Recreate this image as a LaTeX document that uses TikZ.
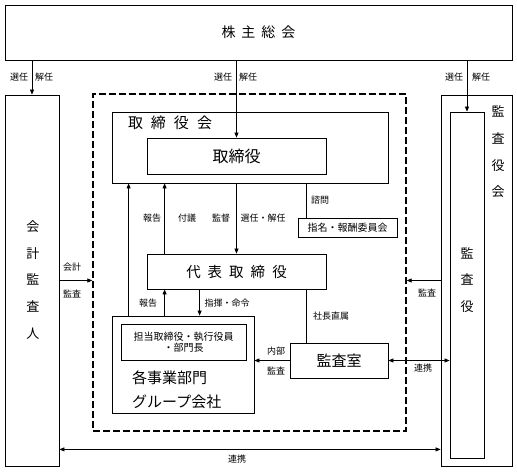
\documentclass[tikz,border=0pt]{standalone}
\usepackage{fontspec}
\setmainfont{Noto Sans CJK JP}
\usetikzlibrary{arrows.meta}
\newcommand{\jgap}{\hspace{6pt}}
\tikzset{
  box/.style={draw, line width=0.8pt, inner sep=0pt},
  arr/.style={-{Triangle[length=5pt,width=4pt]}, line width=0.7pt},
  dblarr/.style={{Triangle[length=5pt,width=4pt]}-{Triangle[length=5pt,width=4pt]}, line width=0.7pt},
  lbl/.style={font=\fontsize{9}{10}\selectfont, inner sep=0pt},
  vtext/.style={font=\fontsize{13}{26.7}\selectfont, align=center, inner sep=0pt},
}

\begin{document}
\begin{tikzpicture}[x=1pt, y=-1pt]
\useasboundingbox (0,0) rectangle (517,472);

% boxes
\node[box, minimum width=507pt, minimum height=55pt, font=\fontsize{14}{16}\selectfont] (gm) at (258.5,32.5) {株\jgap 主\jgap 総\jgap 会};
\node[draw, line width=1.3pt, dash pattern=on 7pt off 3pt, minimum width=313pt, minimum height=337pt] (exec) at (249.5,262.5) {};
\node[box, minimum width=54pt, minimum height=371pt] (ca) at (32,280.5) {};
\node[vtext] (catext) at (33,280) {会\\計\\監\\査\\人};
\node[box, minimum width=71pt, minimum height=371pt] (ksk) at (476.5,280.5) {};
\node[box, minimum width=34pt, minimum height=346pt] (ks) at (467,285) {};
\node[vtext] (ksktext) at (498,152) {監\\査\\役\\会};
\node[vtext] (kstext) at (467,280) {監\\査\\役};

\node[box, minimum width=276pt, minimum height=71pt] (torikai) at (250,147.5) {};
\node[font=\fontsize{15}{17}\selectfont, inner sep=0pt] (torikaitext) at (170,123) {取\hspace{8pt}締\hspace{8pt}役\hspace{8pt}会};
\node[box, minimum width=179pt, minimum height=36pt, font=\fontsize{16}{18}\selectfont] (tori) at (236.5,156) {取締役};
\node[box, minimum width=99pt, minimum height=19pt, font=\fontsize{10}{12}\selectfont] (shimei) at (347.5,227.5) {指名・報酬委員会};
\node[box, minimum width=179pt, minimum height=35pt, font=\fontsize{14.5}{17}\selectfont] (daihyo) at (236.5,271.5) {代\hspace{7pt}表\hspace{7pt}取\hspace{7pt}締\hspace{7pt}役};
\node[box, minimum width=142pt, minimum height=97pt] (jigyo) at (183,364.5) {};
\node[box, minimum width=125pt, minimum height=36pt, align=center, font=\fontsize{10}{11.5}\selectfont] (tanto) at (183.5,342) {担当取締役・執行役員\\・部門長};
\node[font=\fontsize{15}{24}\selectfont, align=left, anchor=west, inner sep=0pt] (jgtext) at (132,390) {各事業部門\\グループ会社};
\node[box, minimum width=98pt, minimum height=35pt, font=\fontsize{15}{17}\selectfont] (kanshitsu) at (339,360.5) {監査室};

% connectors
\draw[arr] (gm.south -| ca.north) -- (ca.north);
\draw[arr] (gm.south -| tori.north) -- (tori.north);
\draw[arr] (gm.south -| ks.north) -- (ks.north);
\draw[arr] (torikai.south -| daihyo.north) -- (daihyo.north);
\draw[arr] ([xshift=17pt]jigyo.north west) -- ([xshift=17pt]torikai.south west);
\draw[arr] ([xshift=18pt]daihyo.north west) -- ([xshift=53pt]torikai.south west);
\draw[line width=0.7pt] ([xshift=195pt]torikai.south west) -- ([xshift=9pt]shimei.north west);
\draw[arr] ([xshift=53pt]jigyo.north west) -- ([xshift=18pt]daihyo.south west);
\draw[arr] ([xshift=53pt]daihyo.south west) -- ([xshift=88pt]jigyo.north west);
\draw[line width=0.7pt] ([xshift=160pt]daihyo.south west) -- ([xshift=17pt]kanshitsu.north west);
\draw[arr] (kanshitsu.west) -- (kanshitsu.west -| jigyo.east);
\draw[dblarr] (kanshitsu.east) -- (kanshitsu.east -| ks.west);
\draw[arr] (ksk.west) -- (ksk.west -| exec.east);
\draw[arr] (ca.east) -- (ca.east -| exec.west);
\coordinate (renL) at ([yshift=17pt]ca.south east);
\draw[dblarr] (renL) -- (renL -| ksk.west);

% labels
\node[lbl] (selL) at (19,77) {選任};
\node[lbl] (disL) at (44,77) {解任};
\node[lbl] (selC) at (223,77) {選任};
\node[lbl] (disC) at (248,77) {解任};
\node[lbl] (selR) at (454,77) {選任};
\node[lbl] (disR) at (481,77) {解任};
\node[lbl] (rep1) at (152,218) {報告};
\node[lbl] (prop) at (187,218) {付議};
\node[lbl] (sup) at (221,218) {監督};
\node[lbl] (apt) at (263,218) {選任・解任};
\node[lbl] (cons) at (320,200) {諮問};
\node[lbl] (rep2) at (148,303) {報告};
\node[lbl] (cmd) at (227,303) {指揮・命令};
\node[lbl] (direct) at (331,316) {社長直属};
\node[lbl] (ia1) at (276,351) {内部};
\node[lbl] (ia2) at (276,371) {監査};
\node[lbl] (aa1) at (72,267) {会計};
\node[lbl] (aa2) at (72,294) {監査};
\node[lbl] (audit) at (427,293) {監査};
\node[lbl] (coop1) at (423,368) {連携};
\node[lbl] (coop2) at (237,459) {連携};
\end{tikzpicture}
\end{document}
